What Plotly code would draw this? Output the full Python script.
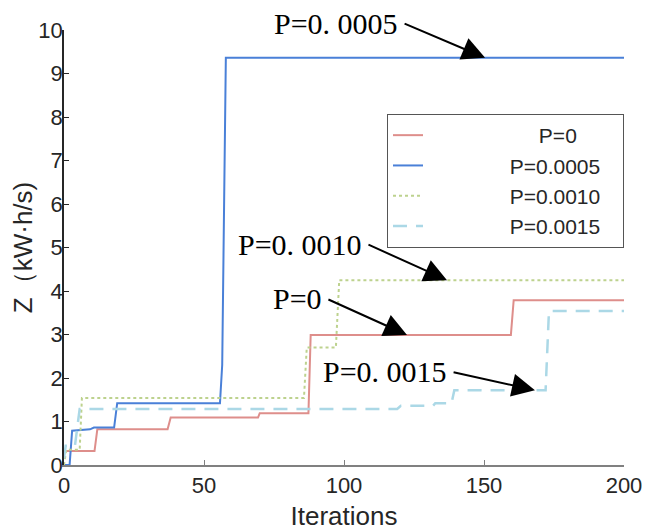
import plotly.graph_objects as go

# ---- data ----
x_p0 = [0, 10.9, 11.9, 37.0, 38.1, 69.3, 69.9, 87.3, 88.1, 159.6, 160.6, 200]
y_p0 = [0.32, 0.32, 0.82, 0.82, 1.09, 1.09, 1.19, 1.19, 2.99, 2.99, 3.79, 3.79]

x_p0005 = [0, 2.0, 2.9, 9.3, 10.7, 17.9, 19.0, 55.7, 56.5, 57.8, 200]
y_p0005 = [0, 0, 0.79, 0.82, 0.86, 0.86, 1.42, 1.42, 2.3, 9.36, 9.36]

x_p0010 = [0, 0.8, 5.6, 6.4, 85.7, 86.7, 97.1, 98.3, 200]
y_p0010 = [0, 0.35, 0.35, 1.54, 1.54, 2.70, 2.70, 4.25, 4.25]

x_p0015 = [0, 0.6, 3.9, 5.6, 119, 120.3, 131.8, 132.6, 138.4, 139.4, 172.0, 173.2, 200]
y_p0015 = [0.15, 0.44, 0.44, 1.29, 1.29, 1.36, 1.36, 1.42, 1.42, 1.72, 1.72, 3.54, 3.54]

names = ["P=0", "P=0.0005", "P=0.0010", "P=0.0015"]

# annotation labels: (text, tip, tail) in data units
ann_text = ["P=0. 0005", "P=0. 0010", "P=0", "P=0. 0015"]
ann_tip = [(150.4, 9.36), (136.8, 4.25), (122.5, 2.99), (168.2, 1.72)]
ann_tail = [(121.1, 10.16), (108.2, 5.08), (93.9, 3.82), (138.6, 2.14)]

x_range = [0, 200]
y_range = [0, 10]
x_ticks = [0, 50, 100, 150, 200]
y_ticks = list(range(0, 11))

NB = "\u00a0"
lead = [19, 14, 14, 14]
trail = 3
colors = ["#DE8E8B", "#4A80D8", "#BDD28E", "#ABD8E6"]
fig = go.Figure()
fig.add_trace(go.Scatter(x=x_p0, y=y_p0, mode="lines", name=NB * lead[0] + names[0] + NB * trail,
                         line=dict(color=colors[0], width=2)))
fig.add_trace(go.Scatter(x=x_p0005, y=y_p0005, mode="lines", name=NB * lead[1] + names[1] + NB * trail,
                         line=dict(color=colors[1], width=2)))
fig.add_trace(go.Scatter(x=x_p0010, y=y_p0010, mode="lines", name=NB * lead[2] + names[2] + NB * trail,
                         line=dict(color=colors[2], width=2, dash="dot")))
fig.add_trace(go.Scatter(x=x_p0015, y=y_p0015, mode="lines", name=NB * lead[3] + names[3] + NB * trail,
                         line=dict(color=colors[3], width=2.5, dash="14px,9px")))

annotations = []
for t, (tx, ty), (ax, ay) in zip(ann_text, ann_tip, ann_tail):
    annotations.append(dict(x=tx, y=ty, ax=ax, ay=ay, xref="x", yref="y",
                            axref="x", ayref="y", text="", showarrow=True,
                            arrowhead=2, arrowsize=2.3, arrowwidth=2,
                            arrowcolor="black", standoff=0, startstandoff=0))
    # label sits just left of the arrow tail (paper coords so it is never hidden)
    px = (ax - 1.0 - x_range[0]) / (x_range[1] - x_range[0])
    py = (ay - y_range[0]) / (y_range[1] - y_range[0])
    annotations.append(dict(x=px, y=py, xref="paper", yref="paper", text=t,
                            showarrow=False, xanchor="right", yanchor="middle",
                            font=dict(family="Liberation Serif, Times New Roman, serif",
                                      size=30, color="black")))

# the page body adds an 8px offset, so the figure is 8px smaller and margins compensate
fig.update_layout(
    width=645, height=523,
    margin=dict(l=56, r=29, t=22, b=66, autoexpand=False),
    paper_bgcolor="white", plot_bgcolor="white",
    font=dict(family="Liberation Sans, Arial, sans-serif", size=22, color="#262626"),
    showlegend=True,
    legend=dict(x=(387 - 64) / 560, y=(465 - 114) / 435, xanchor="left", yanchor="top",
                bordercolor="#555555", borderwidth=1, bgcolor="white",
                font=dict(size=21, color="#262626"), tracegroupgap=0),
    annotations=annotations,
)
fig.update_xaxes(range=x_range, tickvals=x_ticks, showline=True, linecolor="#808080",
                 linewidth=1.5, ticks="inside", ticklen=5, tickcolor="#808080",
                 showgrid=False, zeroline=False, mirror=False, automargin=False,
                 title=dict(text="Iterations", standoff=11))
fig.update_yaxes(range=y_range, tickvals=y_ticks, showline=True, linecolor="#262626",
                 linewidth=1.5, ticks="inside", ticklen=5, tickcolor="#262626",
                 showgrid=False, zeroline=False, mirror=False, automargin=False,
                 ticklabelstandoff=-5,
                 title=dict(text="Z（kW·h/s)", standoff=0))

fig.write_html("out.html")
